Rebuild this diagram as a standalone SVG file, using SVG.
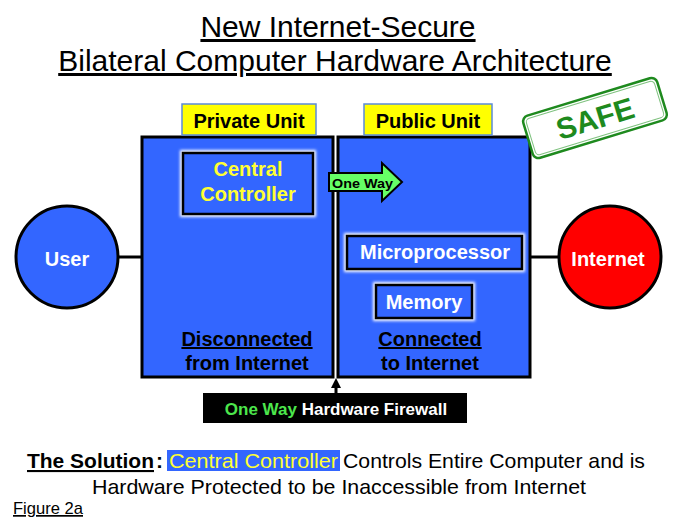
<svg xmlns="http://www.w3.org/2000/svg" width="679" height="525" viewBox="0 0 679 525">
<defs>
<filter id="glow" x="-20%" y="-30%" width="140%" height="160%"><feGaussianBlur stdDeviation="1.5"/></filter>
<marker id="fw" markerWidth="12" markerHeight="10" refX="1" refY="5" orient="auto" markerUnits="userSpaceOnUse"><path d="M0,0 L10,5 L0,10 z" fill="#000"/></marker>
</defs>
<style>
text{font-family:"Liberation Sans",Arial,Helvetica,sans-serif}
.b{font-weight:bold}
.unit{fill:#3366FF;stroke:#000;stroke-width:3}
.lbl{fill:#FFFF00;stroke:#5B8BD9;stroke-width:1.5}
.inner{fill:#3366FF;stroke:#000;stroke-width:2.5}
.gl{fill:none;stroke:#fff;stroke-width:6;filter:url(#glow)}
.wt{fill:#fff;font-size:20px;font-weight:bold}
.conn{stroke:#000;stroke-width:3;fill:none}
</style>
<rect width="679" height="525" fill="#fff"/>
<g id="title" text-anchor="middle" font-size="30">
<text x="338" y="37" text-decoration="underline">New Internet-Secure</text>
<text x="335" y="71" text-decoration="underline">Bilateral Computer Hardware Architecture</text>
</g>
<g id="connectors">
<line class="conn" x1="118" y1="257" x2="142" y2="257"/>
<line class="conn" x1="531" y1="257" x2="559" y2="257"/>
<line x1="336" y1="393" x2="336" y2="387" stroke="#000" stroke-width="3" marker-end="url(#fw)"/>
</g>
<g id="private-unit">
<rect class="unit" x="142" y="137" width="191" height="240"/>
<rect class="lbl" x="182" y="104" width="134" height="31"/>
<text class="b" x="249" y="128" font-size="20" text-anchor="middle">Private Unit</text>
<text class="b" x="247" y="346" font-size="20" text-anchor="middle" text-decoration="underline">Disconnected</text>
<text class="b" x="247" y="370" font-size="20" text-anchor="middle">from Internet</text>
</g>
<g id="public-unit">
<rect class="unit" x="338" y="137" width="192" height="240"/>
<rect class="lbl" x="364" y="104" width="128" height="31"/>
<text class="b" x="428" y="128" font-size="20" text-anchor="middle">Public Unit</text>
<text class="b" x="430" y="346" font-size="20" text-anchor="middle" text-decoration="underline">Connected</text>
<text class="b" x="430" y="370" font-size="20" text-anchor="middle">to Internet</text>
</g>
<g id="central-controller">
<rect class="gl" x="183" y="153" width="130" height="61"/>
<rect class="inner" x="183" y="153" width="130" height="61"/>
<text x="248" y="176" font-size="20" class="b" fill="#FFFF33" text-anchor="middle">Central</text>
<text x="248" y="201" font-size="20" class="b" fill="#FFFF33" text-anchor="middle">Controller</text>
</g>
<g id="one-way-arrow">
<path d="M329,173 L382,173 L382,163 L402,182 L382,201 L382,191 L329,191 Z" fill="#66FF66" stroke="#000" stroke-width="2"/>
<text x="332" y="187.5" font-size="13" class="b" textLength="61" lengthAdjust="spacingAndGlyphs">One Way</text>
</g>
<g id="microprocessor">
<rect class="gl" x="347" y="236" width="175" height="33"/>
<rect class="inner" x="347" y="236" width="175" height="33" fill="#4C6EF5"/>
<text class="wt" x="435" y="259" text-anchor="middle">Microprocessor</text>
</g>
<g id="memory">
<rect class="gl" x="376" y="285" width="96" height="33"/>
<rect class="inner" x="376" y="285" width="96" height="33"/>
<text class="wt" x="424" y="309" text-anchor="middle">Memory</text>
</g>
<g id="user">
<circle cx="67" cy="257" r="51" fill="#3366FF" stroke="#000" stroke-width="3"/>
<text class="wt" x="67" y="266" font-size="23" text-anchor="middle">User</text>
</g>
<g id="internet">
<circle cx="610" cy="257" r="51" fill="#FF0000" stroke="#000" stroke-width="3"/>
<text class="wt" x="608" y="266" font-size="23" text-anchor="middle">Internet</text>
</g>
<g id="firewall">
<rect x="203" y="393" width="264" height="30" fill="#000"/>
<text x="336" y="415" font-size="17" class="b" text-anchor="middle"><tspan fill="#4CE64C">One Way</tspan><tspan fill="#fff"> Hardware Firewall</tspan></text>
</g>
<g id="safe-stamp" transform="translate(595,118) rotate(-17)">
<rect x="-70" y="-22" width="140" height="44" rx="6" fill="#fff" stroke="#1E8A1E" stroke-width="2.5"/>
<rect x="-67" y="-19" width="134" height="38" rx="4" fill="none" stroke="#7FC27F" stroke-width="1"/>
<text x="0" y="11" font-size="30" class="b" fill="#1E8A1E" text-anchor="middle">SAFE</text>
</g>
<g id="caption" font-size="21">
<rect x="167" y="450" width="173" height="21" fill="#3366FF"/>
<text x="27" y="468" class="b" text-decoration="underline" textLength="127" lengthAdjust="spacingAndGlyphs">The Solution</text>
<text x="156" y="468" class="b">:</text>
<text x="169" y="468" fill="#FFFF33" textLength="169" lengthAdjust="spacingAndGlyphs">Central Controller</text>
<text x="343" y="468" textLength="302" lengthAdjust="spacingAndGlyphs">Controls Entire Computer and is</text>
<text x="92" y="494" textLength="494" lengthAdjust="spacingAndGlyphs">Hardware Protected to be Inaccessible from Internet</text>
<text x="13" y="514" font-size="17" text-decoration="underline" textLength="70" lengthAdjust="spacingAndGlyphs">Figure 2a</text>
</g>
</svg>
